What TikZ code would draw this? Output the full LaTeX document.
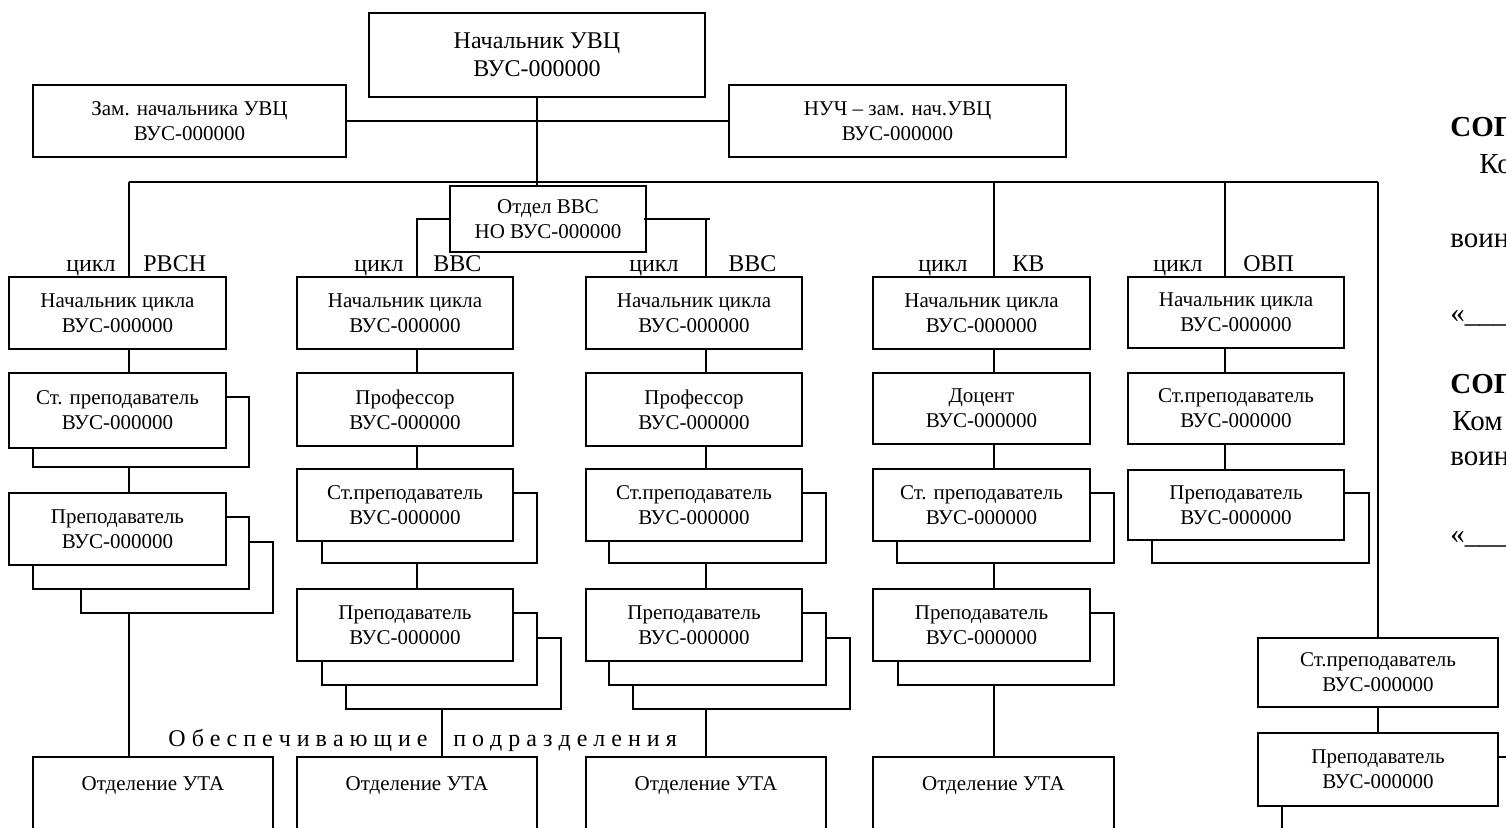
\documentclass[tikz,border=0pt]{standalone}
\usepackage{fontspec}
\setmainfont{Liberation Serif}
\newcommand\bxf{\fontsize{10.5}{12.5}\selectfont}
\newcommand\tpf{\fontsize{12}{14}\selectfont}
\newcommand\lbf{\fontsize{12}{14}\selectfont}
\newcommand\rtf{\fontsize{14.5}{17}\selectfont}
\newcommand\bx[6]{\node[box,minimum width={(#4-#2)*0.5pt},minimum height={(#5-#3)*0.5pt}] (#1) at ({(#2+#4)/2},{(#3+#5)/2}) {#6};}
\newcommand\shd[5]{\node[box,minimum width={(#4-#2)*0.5pt},minimum height={(#5-#3)*0.5pt}] (#1) at ({(#2+#4)/2},{(#3+#5)/2}) {};}
\begin{document}
\begin{tikzpicture}[x=0.5pt,y=-0.5pt,
  box/.style={draw,fill=white,line width=0.9pt,inner sep=0pt,align=center,font=\bxf},
  lbl/.style={inner sep=0pt,font=\lbf},
  rt/.style={inner sep=0pt,font=\rtf},
  conn/.style={line width=0.9pt}]
\useasboundingbox (0,0) rectangle (1506,827);
\clip (0,0) rectangle (1506,827);

% top level
\node[box,font=\tpf,minimum width={(705-369)*0.5pt},minimum height={(97-13)*0.5pt}] (top) at ({(369+705)/2},{(13+97)/2}) {Начальник УВЦ\\ВУС-000000};
\bx{zam}{33}{85}{346}{157}{Зам. начальника УВЦ\\ВУС-000000}
\bx{nuch}{729}{85}{1066}{157}{НУЧ – зам. нач.УВЦ\\ВУС-000000}
\bx{otdel}{450}{186}{646}{252}{Отдел ВВС\\НО ВУС-000000}

% row 1
\bx{c1a}{9}{277}{226}{349}{Начальник цикла\\ВУС-000000}
\bx{c2a}{297}{277}{513}{349}{Начальник цикла\\ВУС-000000}
\bx{c3a}{586}{277}{802}{349}{Начальник цикла\\ВУС-000000}
\bx{c4a}{873}{277}{1090}{349}{Начальник цикла\\ВУС-000000}
\bx{c5a}{1128}{277}{1344}{348}{Начальник цикла\\ВУС-000000}

% row 2
\shd{s1b}{33}{397}{249}{467}
\bx{c1b}{9}{373}{226}{448}{Ст. преподаватель\\ВУС-000000}
\bx{c2b}{297}{373}{513}{446}{Профессор\\ВУС-000000}
\bx{c3b}{586}{373}{802}{446}{Профессор\\ВУС-000000}
\bx{c4b}{873}{373}{1090}{444}{Доцент\\ВУС-000000}
\bx{c5b}{1128}{373}{1344}{444}{Ст.преподаватель\\ВУС-000000}

% row 3
\shd{s1c2}{81}{542}{273}{613}
\shd{s1c1}{33}{517}{249}{589}
\bx{c1c}{9}{493}{226}{565}{Преподаватель\\ВУС-000000}
\shd{s2c}{322}{493}{537}{563}
\bx{c2c}{297}{469}{513}{541}{Ст.преподаватель\\ВУС-000000}
\shd{s3c}{609}{493}{826}{563}
\bx{c3c}{586}{469}{802}{541}{Ст.преподаватель\\ВУС-000000}
\shd{s4c}{897}{493}{1114}{563}
\bx{c4c}{873}{469}{1090}{541}{Ст. преподаватель\\ВУС-000000}
\shd{s5c}{1152}{493}{1369}{563}
\bx{c5c}{1128}{470}{1344}{540}{Преподаватель\\ВУС-000000}

% row 4
\shd{s2d2}{346}{638}{561}{709}
\shd{s2d1}{322}{613}{537}{685}
\bx{c2d}{297}{589}{513}{661}{Преподаватель\\ВУС-000000}
\shd{s3d2}{633}{638}{850}{709}
\shd{s3d1}{609}{613}{826}{685}
\bx{c3d}{586}{589}{802}{661}{Преподаватель\\ВУС-000000}
\shd{s4d}{898}{613}{1114}{685}
\bx{c4d}{873}{589}{1090}{661}{Преподаватель\\ВУС-000000}

% right column
\bx{r1}{1258}{638}{1498}{707}{Ст.преподаватель\\ВУС-000000}
\shd{r2s}{1282}{757}{1560}{880}
\bx{r2}{1258}{733}{1498}{806}{Преподаватель\\ВУС-000000}

% support units
\shd{u1}{33}{757}{273}{900}
\shd{u2}{297}{757}{537}{900}
\shd{u3}{586}{757}{826}{900}
\shd{u4}{873}{757}{1114}{900}
\node[lbl,font=\bxf,anchor=base] (u1t) at (153,790) {Отделение УТА};
\node[lbl,font=\bxf,anchor=base] (u2t) at (417,790) {Отделение УТА};
\node[lbl,font=\bxf,anchor=base] (u3t) at (706,790) {Отделение УТА};
\node[lbl,font=\bxf,anchor=base] (u4t) at (993.5,790) {Отделение УТА};

% connectors
\coordinate (xa) at (129,182);
\coordinate (xb) at (417,182);
\coordinate (xb2) at (442,182);
\coordinate (xc) at (706,182);
\coordinate (xd) at (994,182);
\coordinate (xe) at (1225,182);
\coordinate (xr) at (1378,182);
\coordinate (otr) at (710,219);

\draw[conn] (xa) -- (xr);
\draw[conn] (top.south) -- (top.south |- otdel.north);
\draw[conn] (zam.east) -- (nuch.west);

\draw[conn] (xa) -- (xa |- c1a.north);
\draw[conn] (xa |- c1a.south) -- (xa |- c1b.north);
\draw[conn] (xa |- s1b.south) -- (xa |- c1c.north);
\draw[conn] (xa |- s1c2.south) -- (xa |- u1.north);

\draw[conn] (otdel.west) -- (xb |- otdel.west) -- (xb |- c2a.north);
\draw[conn] (xb |- c2a.south) -- (xb |- c2b.north);
\draw[conn] (xb |- c2b.south) -- (xb |- c2c.north);
\draw[conn] (xb |- s2c.south) -- (xb |- c2d.north);
\draw[conn] (xb2 |- s2d2.south) -- (xb2 |- u2.north);

\draw[conn] ([xshift=-1.5pt]otdel.east) -- (otr);
\draw[conn] (xc |- otdel.east) -- (xc |- c3a.north);
\draw[conn] (xc |- c3a.south) -- (xc |- c3b.north);
\draw[conn] (xc |- c3b.south) -- (xc |- c3c.north);
\draw[conn] (xc |- s3c.south) -- (xc |- c3d.north);
\draw[conn] (xc |- s3d2.south) -- (xc |- u3.north);

\draw[conn] (xd) -- (xd |- c4a.north);
\draw[conn] (xd |- c4a.south) -- (xd |- c4b.north);
\draw[conn] (xd |- c4b.south) -- (xd |- c4c.north);
\draw[conn] (xd |- s4c.south) -- (xd |- c4d.north);
\draw[conn] (xd |- s4d.south) -- (xd |- u4.north);

\draw[conn] (xe) -- (xe |- c5a.north);
\draw[conn] (xe |- c5a.south) -- (xe |- c5b.north);
\draw[conn] (xe |- c5b.south) -- (xe |- c5c.north);

\draw[conn] (xr) -- (r1.north);
\draw[conn] (r1.south) -- (r2.north);

% cycle labels
\node[lbl,anchor=base east] (l1a) at (116,271) {цикл};
\node[lbl,anchor=base west] (l1b) at (143,271) {РВСН};
\node[lbl,anchor=base east] (l2a) at (404,271) {цикл};
\node[lbl,anchor=base west] (l2b) at (433,271) {ВВС};
\node[lbl,anchor=base east] (l3a) at (679,271) {цикл};
\node[lbl,anchor=base west] (l3b) at (728,271) {ВВС};
\node[lbl,anchor=base east] (l4a) at (968,271) {цикл};
\node[lbl,anchor=base west] (l4b) at (1012,271) {КВ};
\node[lbl,anchor=base east] (l5a) at (1203,271) {цикл};
\node[lbl,anchor=base west] (l5b) at (1243,271) {ОВП};

% support caption
\node[lbl,anchor=base east] (ob1) at (428,746) {О б е с п е ч и в а ю щ и е};
\node[lbl,anchor=base west] (ob2) at (453,746) {п о д р а з д е л е н и я};

% right-hand text (cut by the page edge, as in the reference)
\node[rt,anchor=base west,font=\rtf\bfseries] (t1) at (1450,136) {СОГ};
\node[rt,anchor=base west] (t2) at (1479,173) {Ко};
\node[rt,anchor=base west] (t3) at (1450,247) {воин};
\node[rt,anchor=base west] (t4) at (1450,322) {«\_\_\_\_\_\_};
\node[rt,anchor=base west,font=\rtf\bfseries] (t5) at (1450,393) {СОГ};
\node[rt,anchor=base west] (t6) at (1452,430) {Ком};
\node[rt,anchor=base west] (t7) at (1450,465) {воин};
\node[rt,anchor=base west] (t8) at (1450,543) {«\_\_\_\_\_\_};
\end{tikzpicture}
\end{document}
